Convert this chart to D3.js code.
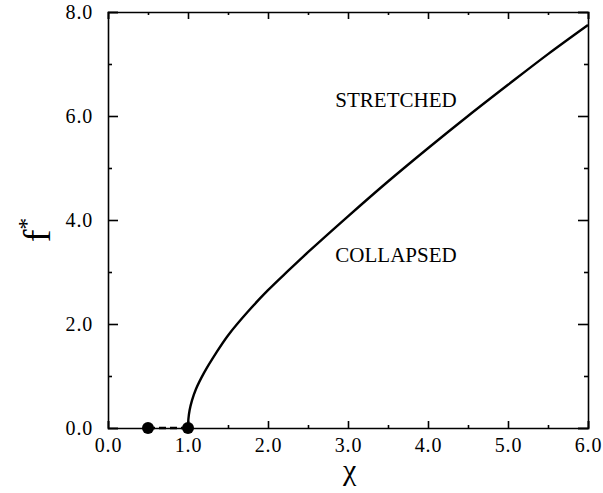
<!DOCTYPE html>
<html>
<head>
<meta charset="utf-8">
<script src="https://cdn.jsdelivr.net/npm/d3@7"></script>
<style>
  body { margin: 0; background: #fff; }
  svg { display: block; }
  svg text { font-family: "Liberation Serif", "Times New Roman", "DejaVu Serif", serif !important; fill: #000; }
</style>
</head>
<body>
<svg id="chart" width="603" height="493"></svg>
<script>
// Phase boundary f*(chi): collapsed below the curve, stretched above it
const chi = [1.0, 1.005, 1.02, 1.05, 1.1, 1.2, 1.35, 1.5, 1.75, 2.0, 2.25, 2.5, 3.0, 3.5, 4.0, 4.5, 5.0, 5.5, 6.0];
const fStar = [0, 0.17, 0.34, 0.53, 0.75, 1.06, 1.44, 1.78, 2.24, 2.65, 3.02, 3.38, 4.07, 4.74, 5.38, 6.0, 6.6, 7.19, 7.75];

// zero-force segment with its two end points
const zeroChi = [0.5, 1.0];
const zeroF = [0, 0];

const xMajor = [0, 1, 2, 3, 4, 5, 6];
const xMinor = [0.5, 1.5, 2.5, 3.5, 4.5, 5.5];
const yMajor = [0, 2, 4, 6, 8];
const yMinor = [1, 3, 5, 7];

const regionLabels = [
  { text: "STRETCHED", x: 3.6, y: 6.18 },
  { text: "COLLAPSED", x: 3.6, y: 3.2 }
];

const svg = d3.select("#chart");
const margin = { left: 108, right: 15, top: 12, bottom: 65 };
const W = 603, H = 493;
const serif = '"Liberation Serif", "Times New Roman", serif';

const x = d3.scaleLinear().domain([0, 6]).range([margin.left, W - margin.right]);
const y = d3.scaleLinear().domain([0, 8]).range([H - margin.bottom, margin.top]);

const fmt = d3.format(".1f");

function styleAxis(g) {
  g.attr("font-family", serif);
  g.selectAll(".domain").attr("stroke", "#000").attr("stroke-width", 1.6);
  g.selectAll(".tick line").attr("stroke", "#000").attr("stroke-width", 1.6);
  g.selectAll("text").style("font-family", serif).style("font-size", "20px")
    .attr("letter-spacing", 0.8);
}

// bottom axis with labels
svg.append("g").attr("transform", `translate(0,${y(0)})`)
  .call(d3.axisBottom(x).tickValues(xMajor).tickFormat(fmt).tickSize(-7).tickPadding(10))
  .call(styleAxis);
svg.append("g").attr("transform", `translate(0,${y(0)})`)
  .call(d3.axisBottom(x).tickValues(xMinor).tickFormat("").tickSize(-3))
  .call(g => g.select(".domain").remove()).call(styleAxis);

// top axis
svg.append("g").attr("transform", `translate(0,${y(8)})`)
  .call(d3.axisTop(x).tickValues(xMajor).tickFormat("").tickSize(-7))
  .call(styleAxis);
svg.append("g").attr("transform", `translate(0,${y(8)})`)
  .call(d3.axisTop(x).tickValues(xMinor).tickFormat("").tickSize(-3))
  .call(g => g.select(".domain").remove()).call(styleAxis);

// left axis with labels
svg.append("g").attr("transform", `translate(${x(0)},0)`)
  .call(d3.axisLeft(y).tickValues(yMajor).tickFormat(fmt).tickSize(-10).tickPadding(15))
  .call(styleAxis);
svg.append("g").attr("transform", `translate(${x(0)},0)`)
  .call(d3.axisLeft(y).tickValues(yMinor).tickFormat("").tickSize(-4))
  .call(g => g.select(".domain").remove()).call(styleAxis);

// right axis
svg.append("g").attr("transform", `translate(${x(6)},0)`)
  .call(d3.axisRight(y).tickValues(yMajor).tickFormat("").tickSize(-10))
  .call(styleAxis);
svg.append("g").attr("transform", `translate(${x(6)},0)`)
  .call(d3.axisRight(y).tickValues(yMinor).tickFormat("").tickSize(-4))
  .call(g => g.select(".domain").remove()).call(styleAxis);

// boundary curve
const line = d3.line()
  .x((d, i) => x(chi[i]))
  .y((d, i) => y(fStar[i]))
  .curve(d3.curveCatmullRom.alpha(0.5));
svg.append("path")
  .attr("d", line(chi))
  .attr("fill", "none")
  .attr("stroke", "#000")
  .attr("stroke-width", 2.4);

// dashed zero-force segment and its end points
svg.append("line")
  .attr("x1", x(zeroChi[0])).attr("y1", y(zeroF[0]))
  .attr("x2", x(zeroChi[1])).attr("y2", y(zeroF[1]))
  .attr("stroke", "#000").attr("stroke-width", 2.6)
  .attr("stroke-dasharray", "7,4");
svg.selectAll("circle.pt").data(zeroChi).enter().append("circle")
  .attr("class", "pt")
  .attr("cx", d => x(d)).attr("cy", (d, i) => y(zeroF[i]))
  .attr("r", 6).attr("fill", "#000");

// region labels
svg.selectAll("text.region").data(regionLabels).enter().append("text")
  .attr("class", "region")
  .attr("x", d => x(d.x)).attr("y", d => y(d.y))
  .attr("text-anchor", "middle")
  .style("font-family", serif)
  .style("font-size", "21px")
  .text(d => d.text);

// axis titles
svg.append("text")
  .attr("x", x(3.02)).attr("y", 480)
  .attr("text-anchor", "middle")
  .style("font-family", serif)
  .style("font-size", "30px")
  .text("χ");

const yt = svg.append("text")
  .attr("transform", `translate(50,${y(4) + 10}) rotate(-90)`)
  .attr("text-anchor", "middle")
  .style("font-family", serif)
  .style("font-size", "38px");
yt.append("tspan").text("f");
yt.append("tspan").style("font-size", "24px").attr("dy", -16).text("*");
</script>
</body>
</html>
